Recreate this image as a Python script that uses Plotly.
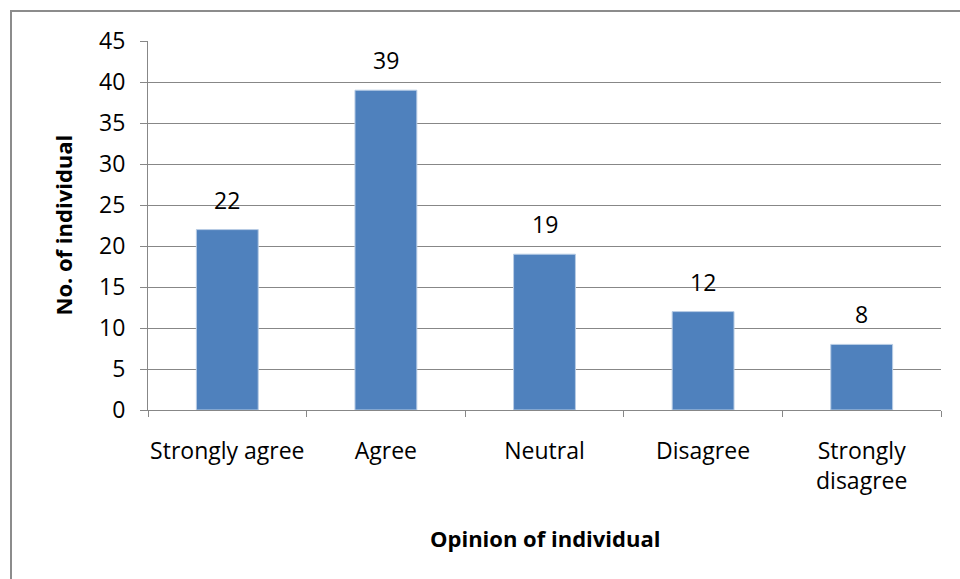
import plotly.graph_objects as go

categories = ["Strongly agree", "Agree", "Neutral", "Disagree", "Strongly<br>disagree"]
values = [22, 39, 19, 12, 8]
y_ticks = [0, 5, 10, 15, 20, 25, 30, 35, 40, 45]

FONT = "'Open Sans', sans-serif"
FS = 23
FT = 22
GRID = "#878787"

fig = go.Figure()
fig.add_trace(go.Bar(
    x=categories, y=values,
    marker=dict(color="#4F81BD", line=dict(color="#B9CDE5", width=1)),
    width=0.39,
    hoverinfo="skip",
))

for c, v in zip(categories, values):
    fig.add_annotation(x=c, y=v, text=str(v), showarrow=False,
                       yanchor="bottom", yshift=12,
                       font=dict(family=FONT, size=FS, color="#000"))

fig.add_annotation(xref="paper", yref="paper", x=(545 - 148) / 793, y=-(538 - 410) / 369,
                   text="<b>Opinion of individual</b>", showarrow=False,
                   xanchor="center", yanchor="middle",
                   font=dict(family=FONT, size=FT, color="#000"))
fig.add_annotation(xref="paper", yref="paper", x=(62 - 148) / 793, y=0.5,
                   text="<b>No. of individual</b>", showarrow=False, textangle=-90,
                   xanchor="center", yanchor="middle",
                   font=dict(family=FONT, size=FT, color="#000"))

# outer chart border
fig.add_shape(type="rect", xref="paper", yref="paper",
              x0=(11 - 148) / 793, x1=1.2, y0=-0.7, y1=1 + (41 - 11) / 369,
              line=dict(color="#8C8C8C", width=2), fillcolor="rgba(0,0,0,0)", layer="below")

fig.update_layout(
    width=960, height=579,
    margin=dict(l=148, r=19, t=41, b=169),
    paper_bgcolor="white", plot_bgcolor="white",
    showlegend=False,
    font=dict(family=FONT, size=FS, color="#000"),
)
fig.update_xaxes(
    type="category", tickson="boundaries", ticks="outside", ticklen=6,
    tickcolor=GRID, showline=True, linecolor=GRID, linewidth=1,
    showgrid=False, ticklabelstandoff=20, tickangle=0,
    tickfont=dict(family=FONT, size=FS, color="#000"),
)
fig.update_yaxes(
    range=[0, 45], tickvals=y_ticks, ticks="outside", ticklen=7,
    tickcolor=GRID, showline=True, linecolor=GRID, linewidth=1,
    showgrid=True, gridcolor=GRID, gridwidth=1, zeroline=False,
    ticklabelstandoff=10,
    tickfont=dict(family=FONT, size=FS, color="#000"),
)

fig.write_html("out.html")
